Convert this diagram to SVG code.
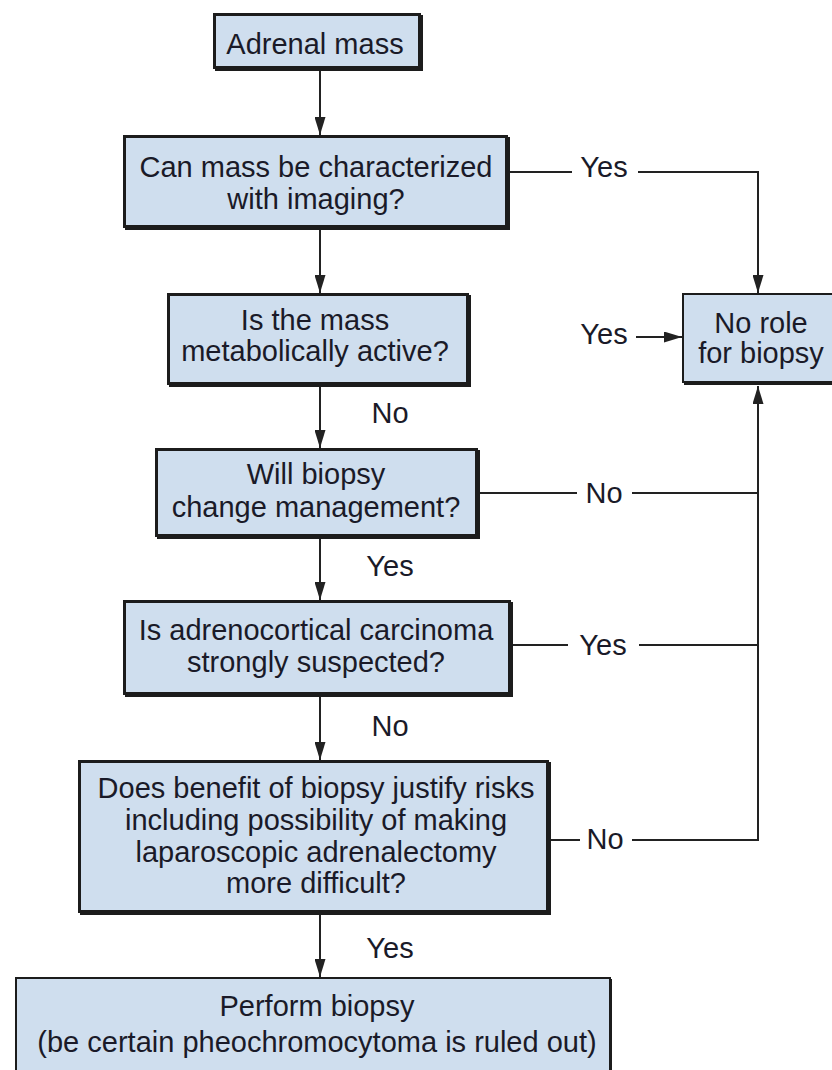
<svg xmlns="http://www.w3.org/2000/svg" width="832" height="1070" viewBox="0 0 832 1070">
<style>
.sh{fill:#1c1c1c}
.box{fill:#cfdeee;stroke:#1c1c1c;stroke-width:3}
.thin{stroke-width:2}
.t{font-family:"Liberation Sans",Arial,sans-serif;font-size:29px;fill:#1a1a28;text-anchor:middle}
.ln{fill:none;stroke:#222;stroke-width:2}
</style>
<defs>
<marker id="ah" markerUnits="userSpaceOnUse" viewBox="0 0 18 11" refX="18" refY="5.5" markerWidth="18" markerHeight="11" orient="auto">
<path d="M0,0 L18,5.5 L0,11 z" fill="#222"/>
</marker>
</defs>
<rect width="832" height="1070" fill="#fff"/>

<g id="connectors">
<line class="ln" x1="320" y1="71" x2="320" y2="135" marker-end="url(#ah)"/>
<line class="ln" x1="320" y1="230" x2="320" y2="293" marker-end="url(#ah)"/>
<line class="ln" x1="320" y1="387" x2="320" y2="448" marker-end="url(#ah)"/>
<line class="ln" x1="320" y1="539" x2="320" y2="600" marker-end="url(#ah)"/>
<line class="ln" x1="320" y1="697" x2="320" y2="760" marker-end="url(#ah)"/>
<line class="ln" x1="320" y1="915" x2="320" y2="977" marker-end="url(#ah)"/>
<line class="ln" x1="510" y1="172" x2="572" y2="172"/>
<polyline class="ln" points="638,172 758,172 758,293" marker-end="url(#ah)"/>
<line class="ln" x1="636" y1="337" x2="682" y2="337" marker-end="url(#ah)"/>
<line class="ln" x1="480" y1="493" x2="577" y2="493"/>
<line class="ln" x1="632" y1="493" x2="758" y2="493"/>
<line class="ln" x1="513" y1="645" x2="568" y2="645"/>
<line class="ln" x1="639" y1="645" x2="758" y2="645"/>
<line class="ln" x1="551" y1="840" x2="580" y2="840"/>
<polyline class="ln" points="632,840 758,840 758,386" marker-end="url(#ah)"/>
<text class="t" x="390" y="423">No</text>
<text class="t" x="390" y="576">Yes</text>
<text class="t" x="390" y="736">No</text>
<text class="t" x="390" y="958">Yes</text>
<text class="t" x="604" y="177">Yes</text>
<text class="t" x="604" y="344">Yes</text>
<text class="t" x="604" y="503">No</text>
<text class="t" x="603" y="655">Yes</text>
<text class="t" x="605" y="849">No</text>
</g>

<g id="n1">
<rect class="sh" x="215" y="15" width="208" height="56"/>
<rect class="box" x="214.5" y="14.5" width="205" height="53"/>
<text class="t" x="315" y="54">Adrenal mass</text>
</g>

<g id="n2">
<rect class="sh" x="125" y="137" width="385" height="93"/>
<rect class="box" x="124.5" y="136.5" width="382" height="90"/>
<text class="t" x="316" y="177">Can mass be characterized</text>
<text class="t" x="316" y="209">with imaging?</text>
</g>

<g id="n3">
<rect class="sh" x="169" y="295" width="302" height="92"/>
<rect class="box" x="168.5" y="294.5" width="299" height="89"/>
<text class="t" x="315" y="330">Is the mass</text>
<text class="t" x="315" y="361">metabolically active?</text>
</g>

<g id="n4">
<rect class="sh" x="157" y="450" width="323" height="89"/>
<rect class="box" x="156.5" y="449.5" width="320" height="86"/>
<text class="t" x="316" y="484">Will biopsy</text>
<text class="t" x="316" y="517">change management?</text>
</g>

<g id="n5">
<rect class="sh" x="125" y="602" width="388" height="95"/>
<rect class="box" x="124.5" y="601.5" width="385" height="92"/>
<text class="t" x="316" y="640">Is adrenocortical carcinoma</text>
<text class="t" x="316" y="672">strongly suspected?</text>
</g>

<g id="n6">
<rect class="sh" x="80" y="762" width="471" height="153"/>
<rect class="box" x="79.5" y="761.5" width="468" height="150"/>
<text class="t" x="316" y="798">Does benefit of biopsy justify risks</text>
<text class="t" x="316" y="830">including possibility of making</text>
<text class="t" x="316" y="862">laparoscopic adrenalectomy</text>
<text class="t" x="316" y="893">more difficult?</text>
</g>

<g id="n7">
<rect class="sh" x="17" y="979" width="595" height="100"/>
<rect class="box thin" x="16" y="978" width="594" height="98"/>
<text class="t" x="317" y="1016">Perform biopsy</text>
<text class="t" x="317" y="1052">(be certain pheochromocytoma is ruled out)</text>
</g>

<g id="n8">
<rect class="sh" x="684" y="295" width="160" height="90"/>
<rect class="box thin" x="683" y="294" width="158" height="88"/>
<text class="t" x="761" y="333">No role</text>
<text class="t" x="761" y="363">for biopsy</text>
</g>
</svg>
